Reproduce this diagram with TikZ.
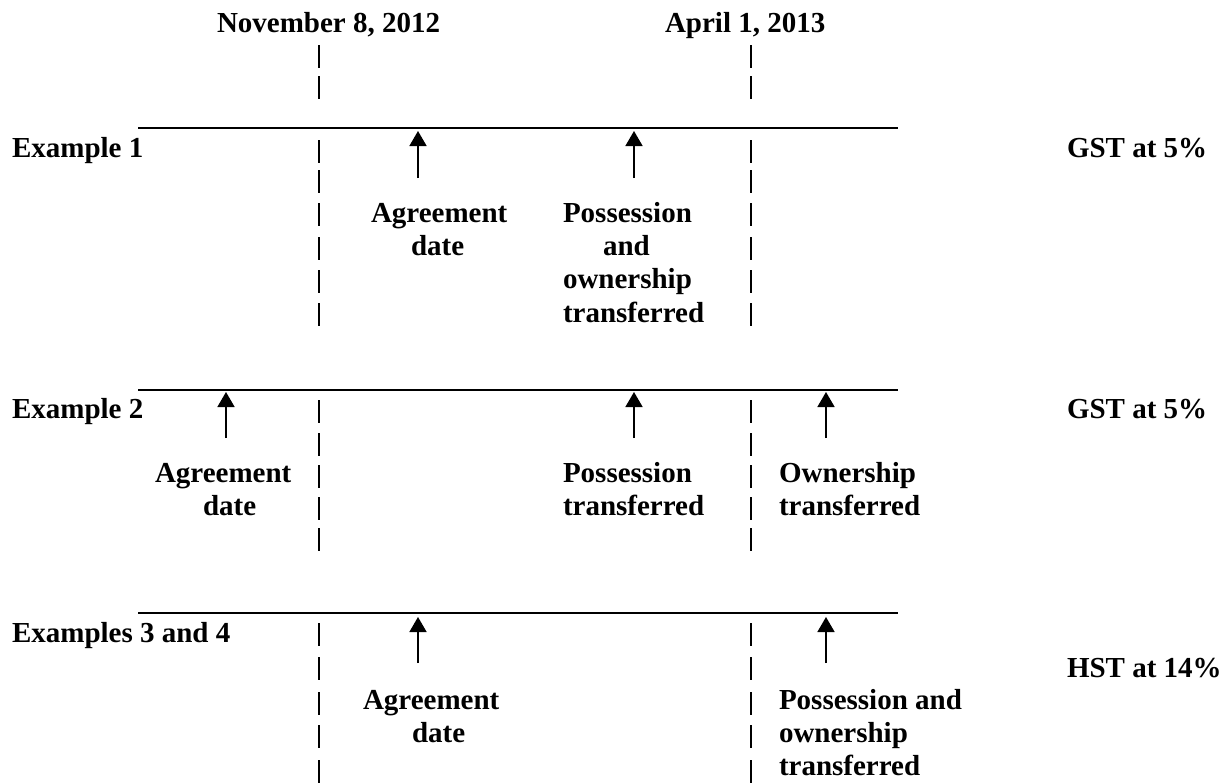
\documentclass[tikz,border=0pt]{standalone}
\usepackage{fontspec}
\setmainfont{Liberation Serif}
\usetikzlibrary{arrows.meta}
\begin{document}
\begin{tikzpicture}[x=0.5pt,y=-0.5pt,
  txt/.style={inner sep=0pt, outer sep=0pt, anchor=base west,
    font=\fontsize{14.5pt}{16.5pt}\selectfont\bfseries},
  tline/.style={line width=1pt},
  pipe/.style={line width=1pt},
  arr/.style={line width=0.8pt, -{Triangle[width=8.5pt,length=7.5pt]}}]
\useasboundingbox (0,0) rectangle (1227,783);
% date headers
\node[txt] (nov) at (217,32) {November 8, 2012};
\node[txt] (apr) at (665,32) {April 1, 2013};
% vertical pipe columns
\foreach \t in {45,76,140,170,203,237,270,303,400,433,465,497,528,623,657,692,725,760}{
  \draw[pipe] (319,\t) -- (319,\t+23);
  \draw[pipe] (751,\t) -- (751,\t+23);
}
% ---------- Example 1
\coordinate (l1a) at (138,128); \coordinate (l1b) at (898,128);
\draw[tline] (l1a) -- (l1b);
\node[txt] (ex1) at (12,157) {Example 1};
\node[txt] (gst1) at (1067,157) {GST at 5\%};
\coordinate (a1t) at (418,178); \coordinate (a1h) at (418,131);
\coordinate (a2t) at (634,178); \coordinate (a2h) at (634,131);
\draw[arr] (a1t) -- (a1h);
\draw[arr] (a2t) -- (a2h);
\node[txt] (e1ag) at (371,222) {Agreement};
\node[txt] (e1da) at (411,255) {date};
\node[txt] (e1p1) at (563,222) {Possession};
\node[txt] (e1p2) at (603,255) {and};
\node[txt] (e1p3) at (563,288) {ownership};
\node[txt] (e1p4) at (563,322) {transferred};
% ---------- Example 2
\coordinate (l2a) at (138,390); \coordinate (l2b) at (898,390);
\draw[tline] (l2a) -- (l2b);
\node[txt] (ex2) at (12,418) {Example 2};
\node[txt] (gst2) at (1067,418) {GST at 5\%};
\coordinate (b1t) at (226,438); \coordinate (b1h) at (226,392);
\coordinate (b2t) at (634,438); \coordinate (b2h) at (634,392);
\coordinate (b3t) at (826,438); \coordinate (b3h) at (826,392);
\draw[arr] (b1t) -- (b1h);
\draw[arr] (b2t) -- (b2h);
\draw[arr] (b3t) -- (b3h);
\node[txt] (e2ag) at (155,482) {Agreement};
\node[txt] (e2da) at (203,515) {date};
\node[txt] (e2p1) at (563,482) {Possession};
\node[txt] (e2p2) at (563,515) {transferred};
\node[txt] (e2o1) at (779,482) {Ownership};
\node[txt] (e2o2) at (779,515) {transferred};
% ---------- Examples 3 and 4
\coordinate (l3a) at (138,613); \coordinate (l3b) at (898,613);
\draw[tline] (l3a) -- (l3b);
\node[txt] (ex3) at (12,642) {Examples 3 and 4};
\node[txt] (hst) at (1067,677) {HST at 14\%};
\coordinate (c1t) at (418,663); \coordinate (c1h) at (418,617);
\coordinate (c2t) at (826,663); \coordinate (c2h) at (826,617);
\draw[arr] (c1t) -- (c1h);
\draw[arr] (c2t) -- (c2h);
\node[txt] (e3ag) at (363,709) {Agreement};
\node[txt] (e3da) at (412,742) {date};
\node[txt] (e3p1) at (779,709) {Possession and};
\node[txt] (e3p2) at (779,742) {ownership};
\node[txt] (e3p3) at (779,775) {transferred};
\end{tikzpicture}
\end{document}
